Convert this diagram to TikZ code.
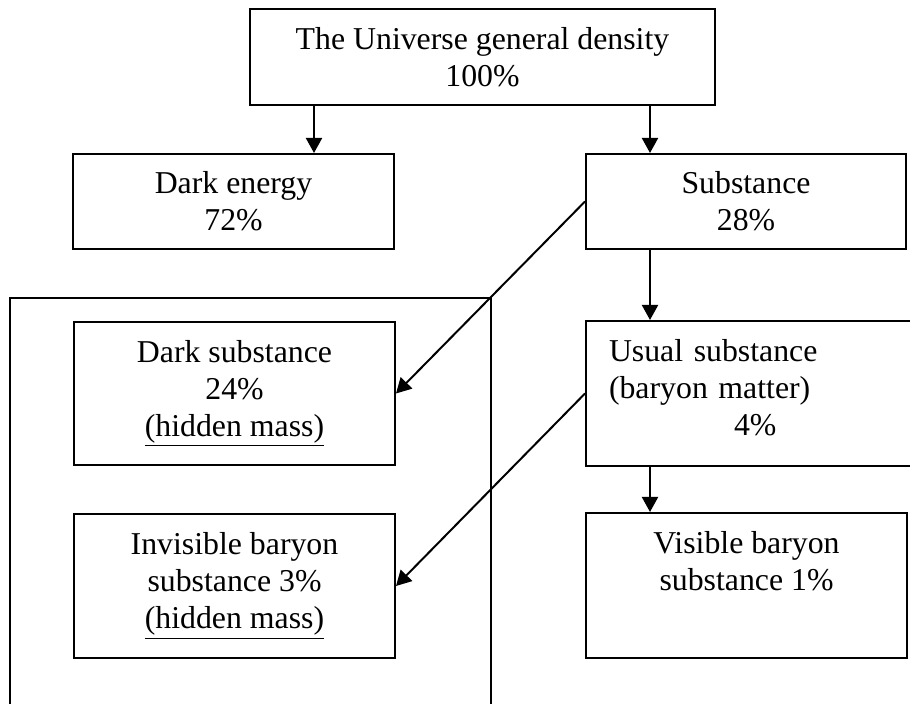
\documentclass[tikz,border=0pt]{standalone}
\usepackage{fontspec}
\setmainfont{Liberation Serif}
\usetikzlibrary{arrows.meta}

\begin{document}
\begin{tikzpicture}[x=0.5pt,y=-0.5pt,line width=1pt,
	every node/.style={font=\fontsize{15.9}{18.5}\selectfont},
	box/.style={draw,anchor=north west,align=center,inner sep=0pt},
	arr/.style={-{Triangle[length=7.5pt,width=8pt]}}]
	\useasboundingbox (0,0) rectangle (910,704);
	\clip (0,0) rectangle (910,704);
	\node[box,minimum width=232.5pt,minimum height=48pt] (univ) at (249,8) {The Universe general density\\100\%};
	\node[box,minimum width=160.5pt,minimum height=47.5pt] (dark) at (72,153) {Dark energy\\72\%};
	\node[box,minimum width=160pt,minimum height=47.5pt] (subst) at (585,153) {Substance\\28\%};
	\node[box,minimum width=240.5pt,minimum height=210pt] (hidden) at (9,297) {};
	\node[box,minimum width=160.5pt,minimum height=71.5pt] (darksub) at (73,321) {Dark substance\\24\%\\\underline{(hidden mass)}};
	\node[box,minimum width=160.5pt,minimum height=72pt] (invis) at (73,513) {Invisible baryon\\substance 3\%\\\underline{(hidden mass)}};
	\node[box,align=left,text width=154.5pt,inner xsep=11.5pt,minimum height=72.5pt] (usual) at (585,320) {Usual substance\\(baryon matter)\\\hspace*{62.5pt}4\%\strut};
	\node[box,minimum width=160.5pt,minimum height=72.5pt] (visible) at (585,512) {Visible baryon\\substance 1\%\\\mbox{}\strut};
	\coordinate (c1) at (314,0);
	\coordinate (c2) at (650,0);
	\draw[arr] (univ.south -| c1) -- (dark.north -| c1);
	\draw[arr] (univ.south -| c2) -- (subst.north -| c2);
	\draw[arr] (subst.south -| c2) -- (usual.north -| c2);
	\draw[arr] (usual.south -| c2) -- (visible.north -| c2);
	\draw[arr] (subst.west) -- (darksub.east);
	\draw[arr] (usual.west) -- (invis.east);
\end{tikzpicture}
\end{document}
